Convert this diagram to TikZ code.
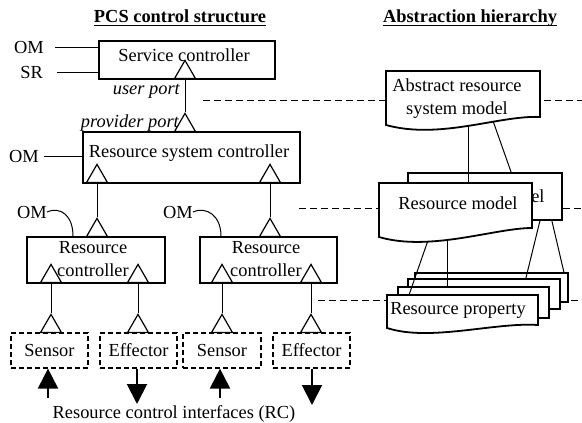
\documentclass[tikz,border=0pt]{standalone}
\usepackage{fontspec}
\setmainfont{Liberation Serif}
\usetikzlibrary{shapes.geometric,arrows.meta}
\newcommand\dgfont{\fontsize{18.4}{23}\selectfont}

\begin{document}
\begin{tikzpicture}[x=1pt,y=-1pt,
  every node/.style={font=\dgfont},
  box/.style={draw, line width=2pt, fill=white, inner sep=0pt},
  sheet/.style={draw, line width=1.8pt, fill=white, inner sep=0pt},
  iobox/.style={draw, line width=1.2pt, dash pattern=on 5pt off 3pt, inner sep=0pt,
                minimum width=77pt, minimum height=35pt},
  port/.style={regular polygon, regular polygon sides=3, draw, line width=1.2pt,
               fill=white, minimum size=24pt, inner sep=0pt, anchor=side 2},
  wire/.style={line width=1pt},
  sep/.style={line width=1pt, dash pattern=on 7pt off 4pt},
  flow/.style={line width=2pt, -{Triangle[length=20pt,width=20pt]}},
  doc/.style={line width=1.8pt, fill=white},
  lbl/.style={inner sep=0pt},
  heading/.style={inner sep=0pt, anchor=base, font=\dgfont\bfseries},
  portname/.style={inner sep=0pt, anchor=base east, font=\dgfont\itshape},
]
\useasboundingbox (0,0) rectangle (582,423);

% ---------- headings ----------
\node[heading] (t1) at (180,23) {PCS control structure};
\node[heading] (t2) at (470,23) {Abstraction hierarchy};
\draw[line width=1.3pt] ([yshift=-2.5pt]t1.base west) -- ([yshift=-2.5pt]t1.base east);
\draw[line width=1.3pt] ([yshift=-2.5pt]t2.base west) -- ([yshift=-2.5pt]t2.base east);

% ---------- level separators ----------
\coordinate (h1a) at (203,100); \coordinate (h1b) at (582,100);
\coordinate (h2a) at (299,208); \coordinate (h2b) at (582,208);
\coordinate (h3a) at (318,300); \coordinate (h3b) at (582,300);
\draw[sep] (h1a) -- (h1b);
\draw[sep] (h2a) -- (h2b);
\draw[sep] (h3a) -- (h3b);

% ---------- service controller ----------
\node[box, minimum width=176pt, minimum height=38pt] (sc) at (187,60) {};
\node[lbl] (sct) at (184,55) {Service controller};
\node[lbl, anchor=east] (om1) at (44,47) {OM};
\node[lbl, anchor=east] (sr) at (43,72) {SR};
\draw[wire] ([xshift=11pt]om1.east) -- (om1.east -| sc.west);
\draw[wire] ([xshift=14pt]sr.east) -- (sr.east -| sc.west);
\node[port] (up) at (185,79) {};
\node[portname] (upl) at (180,94) {user port};

% ---------- resource system controller ----------
\node[box, minimum width=217pt, minimum height=51pt] (rsc) at (191.5,157.5) {};
\node[lbl] (rsct) at (189,153) {Resource system controller};
\node[port] (pp) at (185,132) {};
\node[portname] (ppl) at (179,127) {provider port};
\draw[wire] (up.side 2) -- (pp.corner 1);
\node[lbl, anchor=east] (om2) at (39,156) {OM};
\draw[wire] ([xshift=5pt]om2.east) -- (om2.east -| rsc.west);
\node[port] (rsl) at (97,183) {};
\node[port] (rsr) at (270,183) {};

% ---------- resource controllers ----------
\node[box, minimum width=138pt, minimum height=46pt] (rc1) at (96,260) {};
\node[box, minimum width=137pt, minimum height=46pt] (rc2) at (268.5,260) {};
\node[lbl, align=center] (rc1t) at (93,259) {Resource\\controller};
\node[lbl, align=center] (rc2t) at (266,259) {Resource\\controller};
\node[port] (rc1u) at (97,237) {};
\node[port] (rc2u) at (270,237) {};
\draw[wire] (rsl.side 2) -- (rc1u.corner 1);
\draw[wire] (rsr.side 2) -- (rc2u.corner 1);
\node[lbl, anchor=east] (om3) at (47,212) {OM};
\node[lbl, anchor=east] (om4) at (193,212) {OM};
\draw[wire] (om3.east) .. controls +(14,-6) and +(0,-20) .. ([xshift=47pt]rc1.north west);
\draw[wire] (om4.east) .. controls +(14,-6) and +(0,-20) .. ([xshift=22pt]rc2.north west);
\node[port] (rc1a) at (51,283) {};
\node[port] (rc1b) at (138,283) {};
\node[port] (rc2a) at (222,283) {};
\node[port] (rc2b) at (311,283) {};

% ---------- sensors and effectors ----------
\node[iobox] (s1) at (49.5,350.5) {Sensor};
\node[iobox] (e1) at (138.5,350.5) {Effector};
\node[iobox, minimum width=78pt] (s2) at (222,350.5) {Sensor};
\node[iobox] (e2) at (311.5,350.5) {Effector};
\node[port] (s1p) at (51,333) {};
\node[port] (e1p) at (138,333) {};
\node[port] (s2p) at (222,333) {};
\node[port] (e2p) at (311,333) {};
\draw[wire] (rc1a.side 2) -- (s1p.corner 1);
\draw[wire] (rc1b.side 2) -- (e1p.corner 1);
\draw[wire] (rc2a.side 2) -- (s2p.corner 1);
\draw[wire] (rc2b.side 2) -- (e2p.corner 1);

\coordinate (a1) at (48,398);
\coordinate (a2) at (137,404);
\coordinate (a3) at (220,398);
\coordinate (a4) at (312,405);
\draw[flow] (a1) -- (a1 |- s1.south);
\draw[flow] (a2 |- e1.south) -- (a2);
\draw[flow] (a3) -- (a3 |- s2.south);
\draw[flow] (a4 |- e2.south) -- (a4);
\node[lbl] (rci) at (174,414) {Resource control interfaces (RC)};

% ---------- abstraction hierarchy ----------
\filldraw[doc] (386,71) -- (540,71) -- (540,117)
  .. controls (500,115) and (440,140) .. coordinate[pos=0.34] (ab2) coordinate[pos=0.5] (ab1) (386,125) -- cycle;
\node[lbl, align=center] (abt) at (457,99) {Abstract resource\\system model};

\node[sheet, minimum width=154pt, minimum height=47pt] (bm) at (485,196.5) {Resource model};
\draw[wire] (ab2) -- ([xshift=104pt]bm.north west);

\coordinate (fmt) at (455,183);
\draw[wire] (ab1) -- (ab1 |- fmt);
\filldraw[doc] (379,183) -- (532,183) -- (532,228)
  .. controls (495,228) and (430,252) .. coordinate[pos=0.58] (fm1) coordinate[pos=0.7] (fm2) (379,237) -- cycle;
\node[lbl] (fmx) at (458,203) {Resource model};

\node[sheet, minimum width=153pt, minimum height=29pt] (ps1) at (491.5,287.5) {};
\node[sheet, minimum width=152pt, minimum height=30pt] (ps2) at (484,294) {};
\node[sheet, minimum width=151pt, minimum height=31pt] (ps3) at (473.5,302.5) {};
\filldraw[doc] (387,295) -- (538,295) -- (538,325)
  .. controls (495,322) and (430,342) .. (387,328) -- cycle;
\coordinate (pst) at (409,295);
\node[lbl] (psx) at (458,310) {Resource property};

\draw[wire] (fm2) -- (pst);
\draw[wire] (fm1) -- (fm1 |- ps3.north);
\draw[wire] ([xshift=-23pt]bm.south east) -- ([xshift=-35pt]ps2.north east);
\draw[wire] ([xshift=-11pt]bm.south east) -- ([xshift=-5pt]ps1.north east);
\end{tikzpicture}
\end{document}
